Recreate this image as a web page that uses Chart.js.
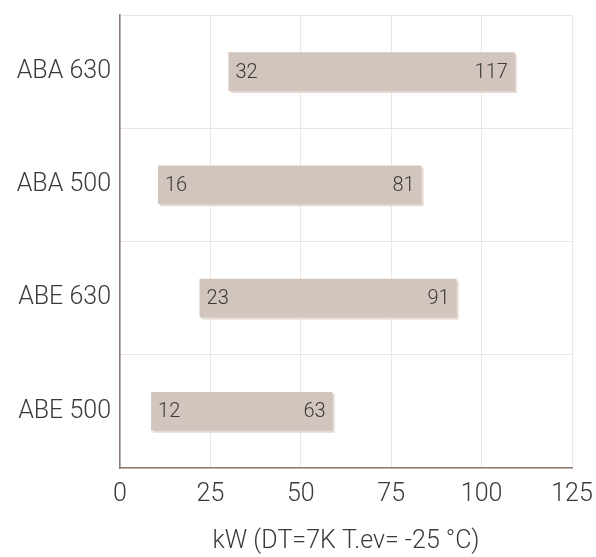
<!DOCTYPE html>
<html lang="de">
<head>
    <meta charset="UTF-8">
    <title>Leistung</title>
    <script src="https://cdn.jsdelivr.net/npm/chart.js"></script>
    <style>
        body { margin: 0; background: #fff; }
        #wrap { width: 596px; height: 557px; }
    </style>
</head>
<body>
    <div id="wrap"><canvas id="rangeChart"></canvas></div>
    <script>
        const models = ['ABA 630', 'ABA 500', 'ABE 630', 'ABE 500'];
        const barStart = [30, 10.5, 22, 8.6];
        const barEnd = [109.2, 83.4, 93.1, 58.8];
        const minLabels = ['32', '16', '23', '12'];
        const maxLabels = ['117', '81', '91', '63'];
        const xTicks = [0, 25, 50, 75, 100, 125];

        const FONT = "Roboto, 'Liberation Sans', sans-serif";
        const TEXT = '#3a3a3a';

        // flat offset shadow under the bars
        const barShadow = {
            id: 'barShadow',
            beforeDatasetsDraw(chart) {
                const ctx = chart.ctx;
                ctx.save();
                ctx.shadowColor = '#e3dad4';
                ctx.shadowOffsetX = 2;
                ctx.shadowOffsetY = 2;
                ctx.shadowBlur = 0;
            },
            afterDatasetsDraw(chart) {
                chart.ctx.restore();
            }
        };

        // min/max numbers inside each bar
        const barLabels = {
            id: 'barLabels',
            afterDatasetsDraw(chart) {
                const ctx = chart.ctx;
                const meta = chart.getDatasetMeta(0);
                ctx.save();
                ctx.font = '300 20px ' + FONT;
                ctx.fillStyle = TEXT;
                ctx.textBaseline = 'middle';
                meta.data.forEach((bar, i) => {
                    ctx.textAlign = 'left';
                    ctx.fillText(minLabels[i], bar.base + 7, bar.y + 1);
                    ctx.textAlign = 'right';
                    ctx.fillText(maxLabels[i], bar.x - 7, bar.y + 1);
                });
                ctx.restore();
            }
        };

        new Chart(document.getElementById('rangeChart'), {
            type: 'bar',
            data: {
                labels: models,
                datasets: [{
                    data: models.map((_, i) => [barStart[i], barEnd[i]]),
                    backgroundColor: '#d2c5bd',
                    borderWidth: 0,
                    borderSkipped: false,
                    barPercentage: 0.34,
                    categoryPercentage: 1
                }]
            },
            options: {
                indexAxis: 'y',
                responsive: true,
                maintainAspectRatio: false,
                animation: false,
                layout: { padding: { top: 15, right: 24, left: 0, bottom: 0 } },
                plugins: {
                    legend: { display: false },
                    tooltip: { enabled: false }
                },
                scales: {
                    x: {
                        min: 0,
                        max: 125,
                        afterBuildTicks(scale) {
                            scale.ticks = xTicks.map(v => ({ value: v }));
                        },
                        afterFit(scale) {
                            scale.height = 89;
                            scale.paddingLeft = 0;
                            scale.paddingRight = 0;
                        },
                        grid: { color: '#ece5e1', drawTicks: false },
                        border: { color: '#8c7b75', width: 1.5 },
                        ticks: {
                            padding: 12,
                            color: TEXT,
                            font: { family: FONT, size: 25, weight: '300' }
                        },
                        title: {
                            display: true,
                            text: 'kW (DT=7K T.ev= -25 °C)',
                            color: TEXT,
                            padding: { top: 4, bottom: 0 },
                            font: { family: FONT, size: 25, weight: '300' }
                        }
                    },
                    y: {
                        afterFit(scale) {
                            scale.width = 120;
                            scale.paddingTop = 0;
                            scale.paddingBottom = 0;
                        },
                        grid: { color: '#ece5e1', drawTicks: false },
                        border: { color: '#8c7b75', width: 1.5 },
                        ticks: {
                            padding: 9,
                            color: TEXT,
                            font: { family: FONT, size: 25, weight: '300' }
                        }
                    }
                }
            },
            plugins: [barShadow, barLabels]
        });
    </script>
</body>
</html>
